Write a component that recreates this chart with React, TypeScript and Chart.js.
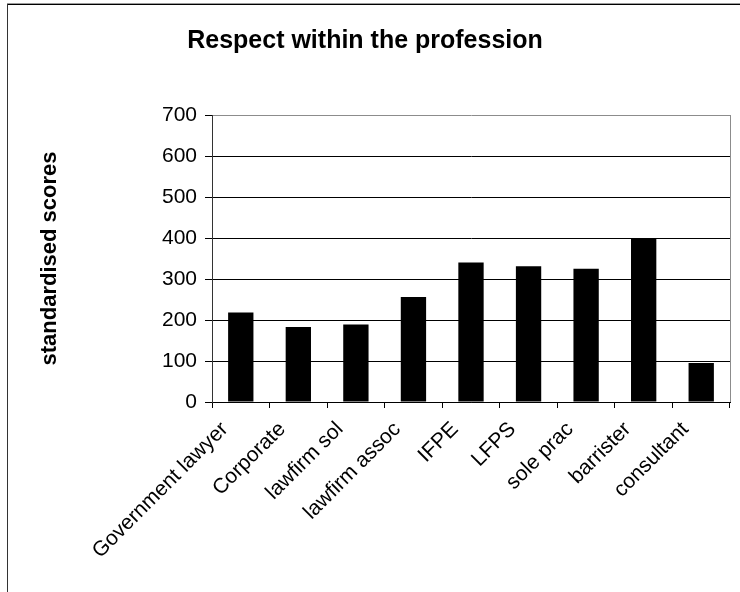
import React, { useEffect, useRef } from "react";
import { Chart, registerables } from "chart.js";

Chart.register(...registerables);

const categories = [
  "Government lawyer",
  "Corporate",
  "lawfirm sol",
  "lawfirm assoc",
  "IFPE",
  "LFPS",
  "sole prac",
  "barrister",
  "consultant",
];
const scores = [218, 183, 189, 256, 340, 331, 325, 398, 95];
const yTicks = [0, 100, 200, 300, 400, 500, 600, 700];

const FONT = "'Liberation Sans', Arial, Helvetica, sans-serif";

// Page frame, white backdrop and the grey right edge of the plot box
const framePlugin = {
  id: "frame",
  beforeDraw(chart: any) {
    const ctx = chart.ctx;
    ctx.save();
    ctx.fillStyle = "#ffffff";
    ctx.fillRect(0, 0, chart.width, chart.height);
    ctx.fillStyle = "#9a9a9a";
    ctx.fillRect(7, 3, chart.width - 7, 1);
    ctx.fillStyle = "#000000";
    ctx.fillRect(7, 4, chart.width - 7, 1);
    ctx.fillStyle = "#333333";
    ctx.fillRect(7, 4, 1, chart.height - 4);
    ctx.restore();
  },
  afterDatasetsDraw(chart: any) {
    const { right, top, bottom } = chart.chartArea;
    const ctx = chart.ctx;
    ctx.save();
    ctx.strokeStyle = "#8c8c8c";
    ctx.lineWidth = 1;
    ctx.beginPath();
    ctx.moveTo(Math.round(right) + 0.5, top);
    ctx.lineTo(Math.round(right) + 0.5, bottom);
    ctx.stroke();
    ctx.restore();
  },
};

export default function App() {
  const canvasRef = useRef<HTMLCanvasElement | null>(null);

  useEffect(() => {
    const canvas = canvasRef.current;
    if (!canvas) return;
    const chart = new Chart(canvas, {
      type: "bar",
      data: {
        labels: categories,
        datasets: [
          {
            label: "standardised scores",
            data: scores,
            backgroundColor: "#000000",
            borderColor: "#000000",
            borderWidth: 0,
            barPercentage: 1,
            categoryPercentage: 0.44,
          },
        ],
      },
      options: {
        responsive: false,
        animation: false,
        layout: { padding: { left: 0, right: 10, top: 0, bottom: 0 } },
        plugins: {
          legend: { display: false },
          tooltip: { enabled: false },
          title: {
            display: true,
            text: "Respect within the profession",
            color: "#000000",
            font: { family: FONT, size: 25, weight: "bold" },
            padding: { top: 26, bottom: 59 },
          },
        },
        scales: {
          x: {
            offset: true,
            grid: {
              offset: true,
              drawOnChartArea: false,
              drawTicks: true,
              tickLength: 6,
              color: "#000000",
            },
            border: { display: true, color: "#000000", width: 1 },
            ticks: {
              autoSkip: false,
              maxRotation: 45,
              minRotation: 45,
              padding: 9,
              labelOffset: -16,
              color: "#000000",
              font: { family: FONT, size: 21 },
            },
            afterFit: (scale: any) => {
              scale.height = 190;
            },
          },
          y: {
            min: 0,
            max: 700,
            afterBuildTicks: (scale: any) => {
              scale.ticks = yTicks.map((v) => ({ value: v }));
            },
            grid: {
              drawTicks: true,
              tickLength: 7,
              color: (ctx: any) =>
                ctx.tick && ctx.tick.value === 700 ? "#8c8c8c" : "#000000",
              tickColor: "#000000",
            },
            border: { display: true, color: "#333333", width: 1 },
            ticks: {
              padding: 8,
              color: "#000000",
              font: { family: FONT, size: 21 },
            },
            title: {
              display: true,
              text: "standardised scores",
              color: "#000000",
              font: { family: FONT, size: 22, weight: "bold" },
              padding: { top: 37, bottom: 0 },
            },
            afterFit: (scale: any) => {
              scale.width = 212;
            },
          },
        },
      },
      plugins: [framePlugin],
    });
    return () => chart.destroy();
  }, []);

  return (
    <div style={{ position: "absolute", left: 0, top: 0, width: 740, height: 592 }}>
      <canvas ref={canvasRef} width={740} height={592} />
    </div>
  );
}
